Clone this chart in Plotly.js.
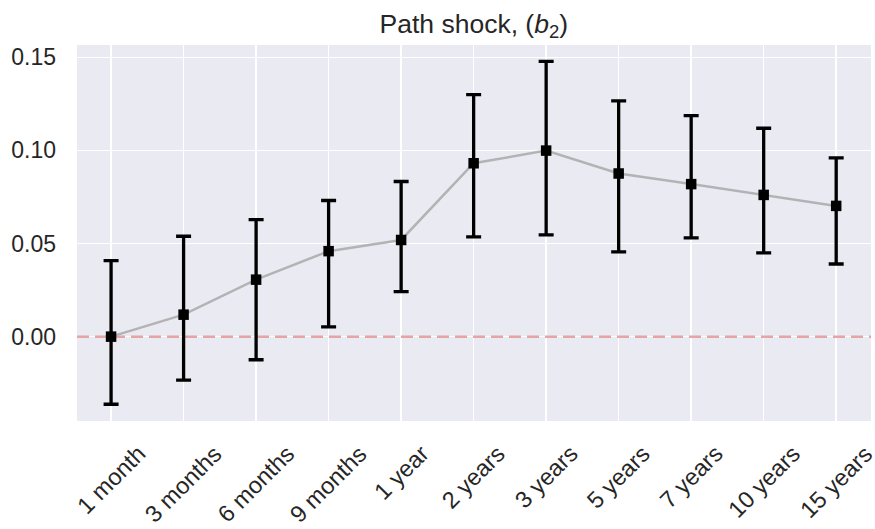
<!DOCTYPE html>
<html>
<head>
<meta charset="utf-8">
<script src="https://cdn.plot.ly/plotly-3.0.1.min.js"></script>
<style>html,body{margin:0;padding:0;background:#fff;}#chart{width:875px;height:529px;}</style>
</head>
<body>
<div id="chart"></div>
<script>
// Data
const categories = ["1 month","3 months","6 months","9 months","1 year","2 years","3 years","5 years","7 years","10 years","15 years"];
const estimates  = [0.0000, 0.0118, 0.0306, 0.0459, 0.0519, 0.0931, 0.0999, 0.0876, 0.0819, 0.0761, 0.0702];
const upperBound = [0.0408, 0.0539, 0.0628, 0.0731, 0.0833, 0.1300, 0.1478, 0.1266, 0.1187, 0.1119, 0.0960];
const lowerBound = [-0.0363, -0.0233, -0.0124, 0.0052, 0.0242, 0.0536, 0.0546, 0.0455, 0.0530, 0.0450, 0.0390];
const yTickVals  = [0.00, 0.05, 0.10, 0.15];
const refLevel   = 0.0;

const errPlus  = upperBound.map((u, i) => u - estimates[i]);
const errMinus = estimates.map((e, i) => e - lowerBound[i]);
const txt = '#262626';
const fam = 'Liberation Sans, Arial, sans-serif';

// reference (zero) line across the whole plot, on a hidden 0..1 axis under the data
const zeroTrace = {
  x: [0, 1], y: [refLevel, refLevel], xaxis: 'x', yaxis: 'y', type: 'scatter', mode: 'lines',
  line: {color: '#e5a4a6', width: 2.5, dash: '12px,6px'}, hoverinfo: 'skip', showlegend: false
};
const lineTrace = {
  x: categories, y: estimates, xaxis: 'x2', yaxis: 'y', type: 'scatter', mode: 'lines',
  line: {color: '#b3b3b6', width: 2.5}, hoverinfo: 'skip', showlegend: false
};
const pointTrace = {
  x: categories, y: estimates, xaxis: 'x2', yaxis: 'y', type: 'scatter', mode: 'markers',
  marker: {symbol: 'square', size: 10.5, color: '#000000'},
  error_y: {type: 'data', symmetric: false, array: errPlus, arrayminus: errMinus,
            color: '#000000', thickness: 3.3, width: 7.5},
  showlegend: false
};

const annotations = categories.map(c => ({
  x: c, xref: 'x2', y: -0.045, yref: 'paper',
  text: c, showarrow: false, textangle: -45,
  xanchor: 'center', yanchor: 'top',
  font: {family: fam, size: 23.5, color: txt}
}));

const layout = {
  width: 875, height: 529,
  margin: {l: 77, r: 4, t: 45, b: 108},
  paper_bgcolor: '#ffffff', plot_bgcolor: '#eaeaf2',
  font: {family: fam, size: 23, color: txt},
  title: {text: 'Path shock, (<i>b</i><sub>2</sub>)', x: 0.5415, xanchor: 'center',
          y: 0.956, yref: 'container', yanchor: 'middle',
          font: {family: fam, size: 26.5, color: txt}},
  xaxis: {type: 'linear', range: [0, 1], visible: false, showgrid: false, zeroline: false, fixedrange: true},
  xaxis2: {type: 'category', range: [-0.47, 10.48], overlaying: 'x', anchor: 'y', side: 'bottom',
          showgrid: true, gridcolor: '#ffffff', gridwidth: 1.5,
          showticklabels: false, ticks: '', zeroline: false, showline: false, fixedrange: true},
  yaxis: {range: [-0.0453, 0.1566], tickvals: yTickVals, tickformat: '.2f', showgrid: true,
          gridcolor: '#ffffff', gridwidth: 1.5, zeroline: false, showline: false, ticks: '',
          ticklabelstandoff: 20, tickfont: {size: 23, color: txt}},
  annotations: annotations
};

Plotly.newPlot('chart', [zeroTrace, lineTrace, pointTrace], layout, {displayModeBar: false, staticPlot: true});
</script>
</body>
</html>
